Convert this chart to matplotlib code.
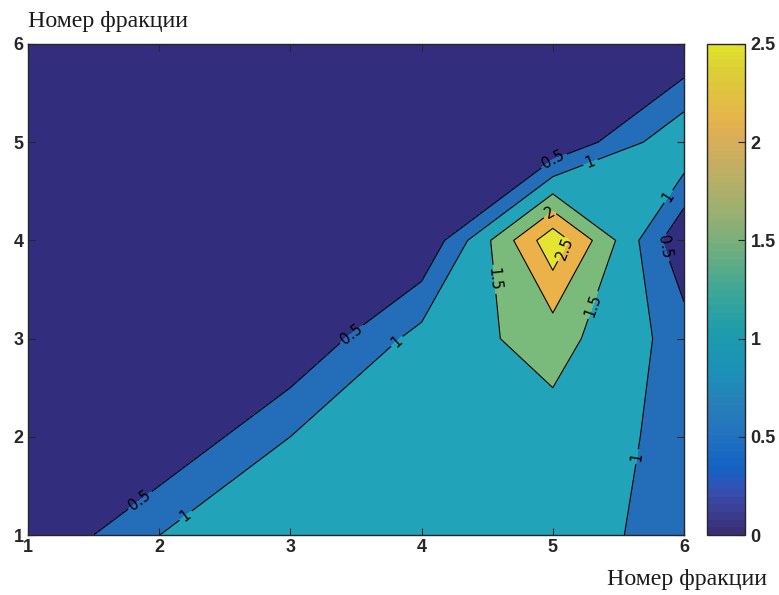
import numpy as np
import matplotlib.pyplot as plt
from matplotlib.colors import ListedColormap, Normalize
from matplotlib.cm import ScalarMappable

# fraction numbers (both axes)
x = [1, 2, 3, 4, 5, 6]
y = [1, 2, 3, 4, 5, 6]

# values, rows are y = 1..6, columns x = 1..6
z_y1 = [0, 0.999, 1.2, 1.25, 1.3, 0.75]
z_y2 = [0, 0, 1.001, 1.2, 1.3, 0.85]
z_y3 = [0, 0, 0, 1.2, 1.7, 0.78]
z_y4 = [0, 0, 0, 0, 2.85, 0.03]
z_y5 = [0, 0, 0, 0, 0, 1.45]
z_y6 = [0, 0, 0, 0, 0, 0]

levels = [0, 0.5, 1, 1.5, 2, 2.5, 3.0]
cbar_ticks = [0, 0.5, 1, 1.5, 2, 2.5]
label_text = "Номер фракции"

# fill colours as they look in the picture
band_colors = ["#322d7d", "#246eb9", "#21a3b9", "#7aba7a", "#eab248", "#e6e432"]

# parula (64) for the colorbar
parula = np.array([
    [0.2081, 0.1663, 0.5292], [0.2116, 0.1898, 0.5777], [0.2123, 0.2138, 0.6270],
    [0.2081, 0.2386, 0.6771], [0.1959, 0.2645, 0.7279], [0.1707, 0.2919, 0.7792],
    [0.1253, 0.3242, 0.8303], [0.0591, 0.3598, 0.8683], [0.0117, 0.3875, 0.8820],
    [0.0060, 0.4086, 0.8828], [0.0165, 0.4266, 0.8786], [0.0329, 0.4430, 0.8720],
    [0.0498, 0.4586, 0.8641], [0.0629, 0.4737, 0.8554], [0.0723, 0.4887, 0.8467],
    [0.0779, 0.5040, 0.8384], [0.0793, 0.5200, 0.8312], [0.0749, 0.5375, 0.8263],
    [0.0641, 0.5570, 0.8240], [0.0488, 0.5772, 0.8228], [0.0343, 0.5966, 0.8199],
    [0.0265, 0.6137, 0.8135], [0.0239, 0.6287, 0.8038], [0.0231, 0.6418, 0.7913],
    [0.0228, 0.6535, 0.7768], [0.0267, 0.6642, 0.7607], [0.0384, 0.6743, 0.7436],
    [0.0590, 0.6838, 0.7254], [0.0843, 0.6928, 0.7062], [0.1133, 0.7015, 0.6859],
    [0.1453, 0.7098, 0.6646], [0.1801, 0.7177, 0.6424], [0.2178, 0.7250, 0.6193],
    [0.2586, 0.7317, 0.5954], [0.3022, 0.7376, 0.5712], [0.3482, 0.7424, 0.5473],
    [0.3953, 0.7459, 0.5244], [0.4420, 0.7481, 0.5033], [0.4871, 0.7491, 0.4840],
    [0.5300, 0.7491, 0.4661], [0.5709, 0.7485, 0.4494], [0.6099, 0.7473, 0.4337],
    [0.6473, 0.7456, 0.4188], [0.6834, 0.7435, 0.4044], [0.7184, 0.7411, 0.3905],
    [0.7525, 0.7384, 0.3768], [0.7858, 0.7356, 0.3633], [0.8185, 0.7327, 0.3498],
    [0.8507, 0.7299, 0.3360], [0.8824, 0.7274, 0.3217], [0.9139, 0.7258, 0.3063],
    [0.9450, 0.7261, 0.2886], [0.9739, 0.7314, 0.2666], [0.9938, 0.7455, 0.2403],
    [0.9990, 0.7653, 0.2164], [0.9955, 0.7861, 0.1967], [0.9880, 0.8066, 0.1794],
    [0.9789, 0.8271, 0.1633], [0.9697, 0.8481, 0.1475], [0.9626, 0.8705, 0.1309],
    [0.9589, 0.8949, 0.1132], [0.9598, 0.9218, 0.0948], [0.9661, 0.9514, 0.0755],
    [0.9763, 0.9831, 0.0538]])
# the scan is a bit washed out
grey = parula.mean(axis=1, keepdims=True)
parula_scan = np.clip((0.8 * parula + 0.2 * grey) * 0.96, 0, 1)
cmap = ListedColormap(parula_scan)

Z = np.array([z_y1, z_y2, z_y3, z_y4, z_y5, z_y6])
X, Y = np.meshgrid(x, y)

fig = plt.figure(figsize=(7.79, 5.95), dpi=100)
ax = fig.add_axes([28/779, 60/595, 656/779, 491/595])

dark = "#262626"
ax.contourf(X, Y, Z, levels=levels, colors=band_colors)
cs = ax.contour(X, Y, Z, levels=levels[1:-1], colors="k", linewidths=0.8)

label_pos = [(1.85, 1.36), (2.2, 1.2), (3.47, 3.04), (3.82, 2.96),
             (5.0, 4.84), (5.28, 4.82), (5.9, 4.43), (5.89, 3.95),
             (5.0, 4.24), (5.05, 3.95), (4.52, 3.6), (5.31, 3.34), (5.63, 1.8)]
ax.clabel(cs, fmt="%g", fontsize=10.5, manual=label_pos, inline=True, inline_spacing=3)

ax.set_xlim(1, 6)
ax.set_ylim(1, 6)
ax.set_xticks(x)
ax.set_yticks(y)
ax.tick_params(direction="in", top=True, right=True, length=5, width=0.8,
               colors=dark, labelsize=13, pad=3)
for lab in ax.get_xticklabels() + ax.get_yticklabels():
    lab.set_fontfamily("Liberation Sans")
    lab.set_fontweight("bold")
for sp in ax.spines.values():
    sp.set_color(dark)
    sp.set_linewidth(1.0)

cax = fig.add_axes([707/779, 60/595, 38/779, 491/595])
sm = ScalarMappable(norm=Normalize(0, 2.5), cmap=cmap)
cb = fig.colorbar(sm, cax=cax, ticks=cbar_ticks)
cb.ax.set_yticklabels(["0", "0.5", "1", "1.5", "2", "2.5"])
cb.ax.tick_params(direction="in", length=5, width=0.8, colors=dark, labelsize=13, pad=4)
for lab in cb.ax.get_yticklabels():
    lab.set_fontfamily("Liberation Sans")
    lab.set_fontweight("bold")
cb.outline.set_edgecolor(dark)
cb.outline.set_linewidth(1.0)

fig.text(28/779, 1 - 27/595, label_text, fontsize=17.2, family="Liberation Serif",
         va="baseline", ha="left", color="#1a1a1a")
fig.text(607/779, 1 - 585/595, label_text, fontsize=17.2, family="Liberation Serif",
         va="baseline", ha="left", color="#1a1a1a")

fig.savefig("out.png", dpi=100)
